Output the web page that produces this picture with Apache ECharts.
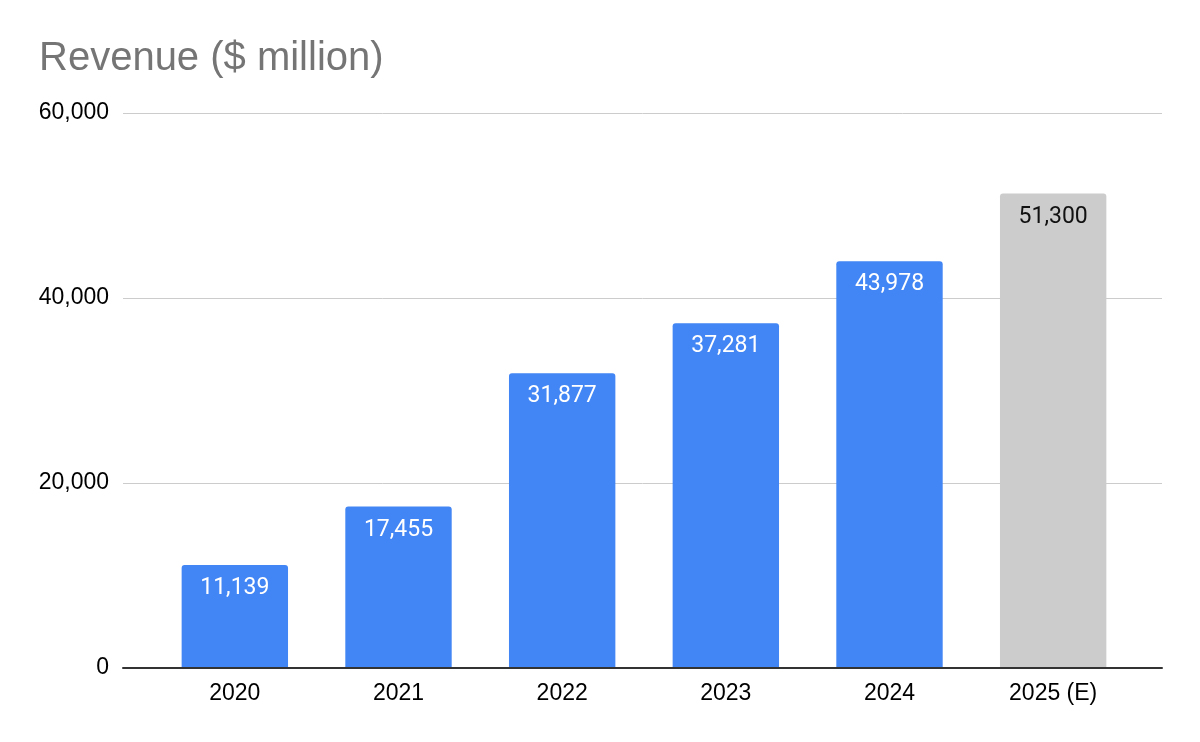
<!DOCTYPE html>
<html>
<head>
<meta charset="utf-8">
<script src="https://cdn.jsdelivr.net/npm/echarts@6/dist/echarts.min.js"></script>
<style>
html,body{margin:0;padding:0;background:#fff;}
#chart{width:1200px;height:742px;}
</style>
</head>
<body>
<div id="chart"></div>
<script>
const categories = ['2020', '2021', '2022', '2023', '2024', '2025 (E)'];
const revenue = [11139, 17455, 31877, 37281, 43978, 51300];
const estimated = [false, false, false, false, false, true];
const yTicks = [0, 20000, 40000, 60000];

const chart = echarts.init(document.getElementById('chart'));
const fmt = v => v.toLocaleString('en-US');
const yMin = yTicks[0], yMax = yTicks[yTicks.length - 1];
chart.setOption({
  animation: false,
  backgroundColor: '#ffffff',
  title: {
    text: 'Revenue ($ million)',
    left: 34,
    top: 34,
    textStyle: { fontFamily: 'Liberation Sans, Arial', fontSize: 40, fontWeight: 'normal', color: '#757575' }
  },
  grid: [
    { left: 123, right: 38, top: 113, bottom: 74 },
    { left: 153, right: 65, top: 113, bottom: 74 }
  ],
  xAxis: [
    {
      gridIndex: 0, type: 'value', min: 0, max: 1,
      axisTick: { show: false }, axisLabel: { show: false }, splitLine: { show: false },
      axisLine: { show: true, lineStyle: { color: '#333333', width: 2 } },
      z: 5
    },
    {
      gridIndex: 1, type: 'category', data: categories,
      axisTick: { show: false },
      axisLine: { show: false },
      axisLabel: { fontFamily: 'Liberation Sans, Arial', fontSize: 23, color: '#000000', margin: 14 }
    }
  ],
  yAxis: [
    {
      gridIndex: 0, type: 'value', min: yMin, max: yMax, interval: 20000,
      axisLine: { show: false }, axisTick: { show: false },
      splitLine: { lineStyle: { color: '#cccccc', width: 1 } },
      axisLabel: { fontFamily: 'Liberation Sans, Arial', fontSize: 23, color: '#000000', margin: 14, formatter: v => fmt(v) }
    },
    {
      gridIndex: 1, type: 'value', min: yMin, max: yMax, interval: 20000, show: false
    }
  ],
  series: [{
    type: 'bar',
    xAxisIndex: 1,
    yAxisIndex: 1,
    barWidth: '65%',
    data: revenue.map((v, i) => ({
      value: v,
      itemStyle: { color: estimated[i] ? '#cccccc' : '#4285f4', borderRadius: [3, 3, 0, 0] },
      label: { color: estimated[i] ? '#111111' : '#ffffff' }
    })),
    label: {
      show: true,
      position: 'insideTop',
      distance: 12,
      fontFamily: 'Roboto, Liberation Sans, Arial',
      fontSize: 23,
      formatter: p => fmt(p.value)
    }
  }]
});
</script>
</body>
</html>
